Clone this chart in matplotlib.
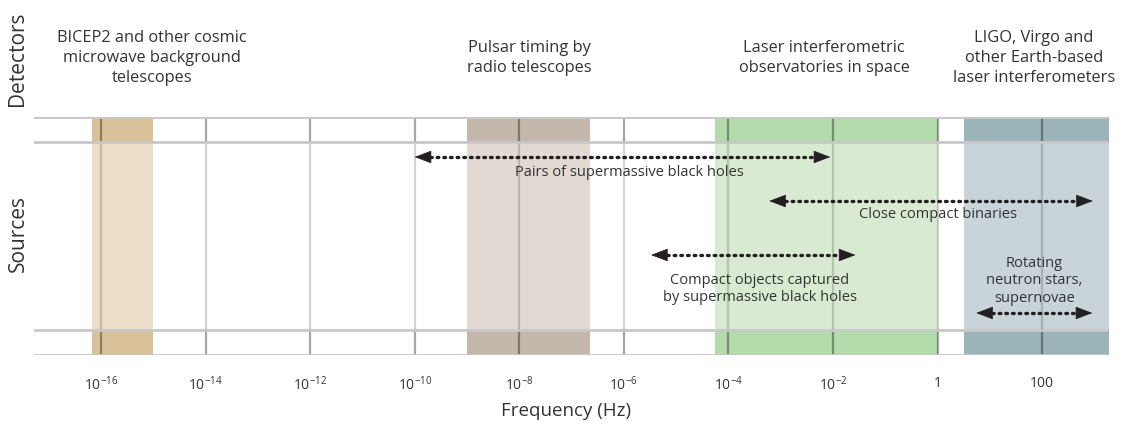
import matplotlib
matplotlib.use('Agg')
import matplotlib.pyplot as plt

plt.rcParams['font.family'] = ['Open Sans', 'DejaVu Sans']
plt.rcParams['mathtext.fontset'] = 'custom'
plt.rcParams['mathtext.rm'] = 'Open Sans'
plt.rcParams['mathtext.it'] = 'Open Sans'
plt.rcParams['mathtext.default'] = 'regular'

# detector bands (Hz)
detectors = ['BICEP2 and other cosmic\nmicrowave background\ntelescopes',
             'Pulsar timing by\nradio telescopes',
             'Laser interferometric\nobservatories in space',
             'LIGO, Virgo and\nother Earth-based\nlaser interferometers']
det_lo = [10**-16.17, 10**-9.0, 10**-4.26, 10**0.5]
det_hi = [10**-15.0, 10**-6.65, 1.0, 10**3.4]
det_dark = ['#d9c29a', '#c4b8ac', '#b4dbab', '#9bb4ba']
det_light = ['#ecdfc9', '#e1d9d2', '#d8ebd2', '#c8d4d9']

# sources (Hz)
sources = ['Pairs of supermassive black holes',
           'Close compact binaries',
           'Compact objects captured\nby supermassive black holes',
           'Rotating\nneutron stars,\nsupernovae']
src_lo = [1e-10, 10**-3.22, 10**-5.48, 10**0.74]
src_hi = [10**-2.05, 10**2.97, 10**-1.57, 10**2.96]

ticks = [1e-16, 1e-14, 1e-12, 1e-10, 1e-8, 1e-6, 1e-4, 1e-2, 1, 100]
tick_labels = ['$10^{-16}$', '$10^{-14}$', '$10^{-12}$', '$10^{-10}$', '$10^{-8}$',
               '$10^{-6}$', '$10^{-4}$', '$10^{-2}$', '1', '100']

W, H = 1128, 428
fig = plt.figure(figsize=(W / 100, H / 100), dpi=100)
ax = fig.add_axes([34 / W, (H - 355) / H, (1108 - 34) / W, (355 - 117) / H])
ax.set_xscale('log')
ax.set_xlim(10**-17.28, 10**3.26)
ax.set_ylim(0, 238)
for s in ax.spines.values():
    s.set_visible(False)
ax.set_yticks([])
ax.tick_params(axis='x', length=0, pad=15, labelsize=10, colors='#333333')
ax.set_xticks(ticks)
ax.set_xticklabels(tick_labels)
ax.minorticks_off()

# strips: bottom detector strip, source area, top detector strip
strip_lo = 25
strip_hi = 213.3
for lo, hi, dk, lt in zip(det_lo, det_hi, det_dark, det_light):
    ax.fill_between([lo, hi], 0, strip_lo, color=dk, lw=0, zorder=1)
    ax.fill_between([lo, hi], strip_lo, strip_hi, color=lt, lw=0, zorder=1)
    ax.fill_between([lo, hi], strip_hi, 238, color=dk, lw=0, zorder=1)

# vertical grid
for t in ticks:
    ax.plot([t, t], [0, strip_lo], color='black', alpha=0.35, lw=1.6, zorder=2)
    ax.plot([t, t], [strip_lo, strip_hi], color='black', alpha=0.17, lw=1.6, zorder=2)
    ax.plot([t, t], [strip_hi, 238], color='black', alpha=0.35, lw=1.6, zorder=2)

# horizontal lines
for yy in [0, strip_lo, strip_hi, 238]:
    ax.axhline(yy, color='#c8c8c8', lw=2, zorder=3)

# source arrows
arrow_y = [198, 154, 100, 42]
label_x = [10**-5.9, 10**0.0, 10**-3.4, 10**1.85]
label_y = [183, 140, 66, 74]
f = 10**0.3
for lo, hi, ya, name, lx, ly in zip(src_lo, src_hi, arrow_y, sources, label_x, label_y):
    ax.plot([lo * f, hi / f], [ya, ya], color='#231f20', lw=2.4,
            linestyle=(0, (0.5, 1.5)), dash_capstyle='round', zorder=4)
    for tip, base in [(lo, lo * f), (hi, hi / f)]:
        ax.annotate('', xy=(tip, ya), xytext=(base, ya),
                    arrowprops=dict(arrowstyle='-|>,head_length=1.1,head_width=0.42',
                                    color='#231f20', lw=0.5, shrinkA=0, shrinkB=0),
                    zorder=5)
    ax.text(lx, ly, name, ha='center', va='center', fontsize=10.5,
            color='#333333', linespacing=1.25, zorder=5)

# detector labels
det_x = [152, 529, 824, 1034]
det_y = [58, 58, 58, 58]
for name, x, y in zip(detectors, det_x, det_y):
    fig.text(x / W, 1 - y / H, name, ha='center', va='center', fontsize=11.8,
             color='#333333', linespacing=1.3)

fig.text(18 / W, 1 - 59 / H, 'Detectors', rotation=90, ha='center', va='center',
         fontsize=15, color='#333333')
fig.text(18 / W, 1 - 234 / H, 'Sources', rotation=90, ha='center', va='center',
         fontsize=15, color='#333333')
fig.text(566 / W, 1 - 411 / H, 'Frequency (Hz)', ha='center', va='center',
         fontsize=13.5, color='#333333')

fig.savefig('out.png', dpi=100)
